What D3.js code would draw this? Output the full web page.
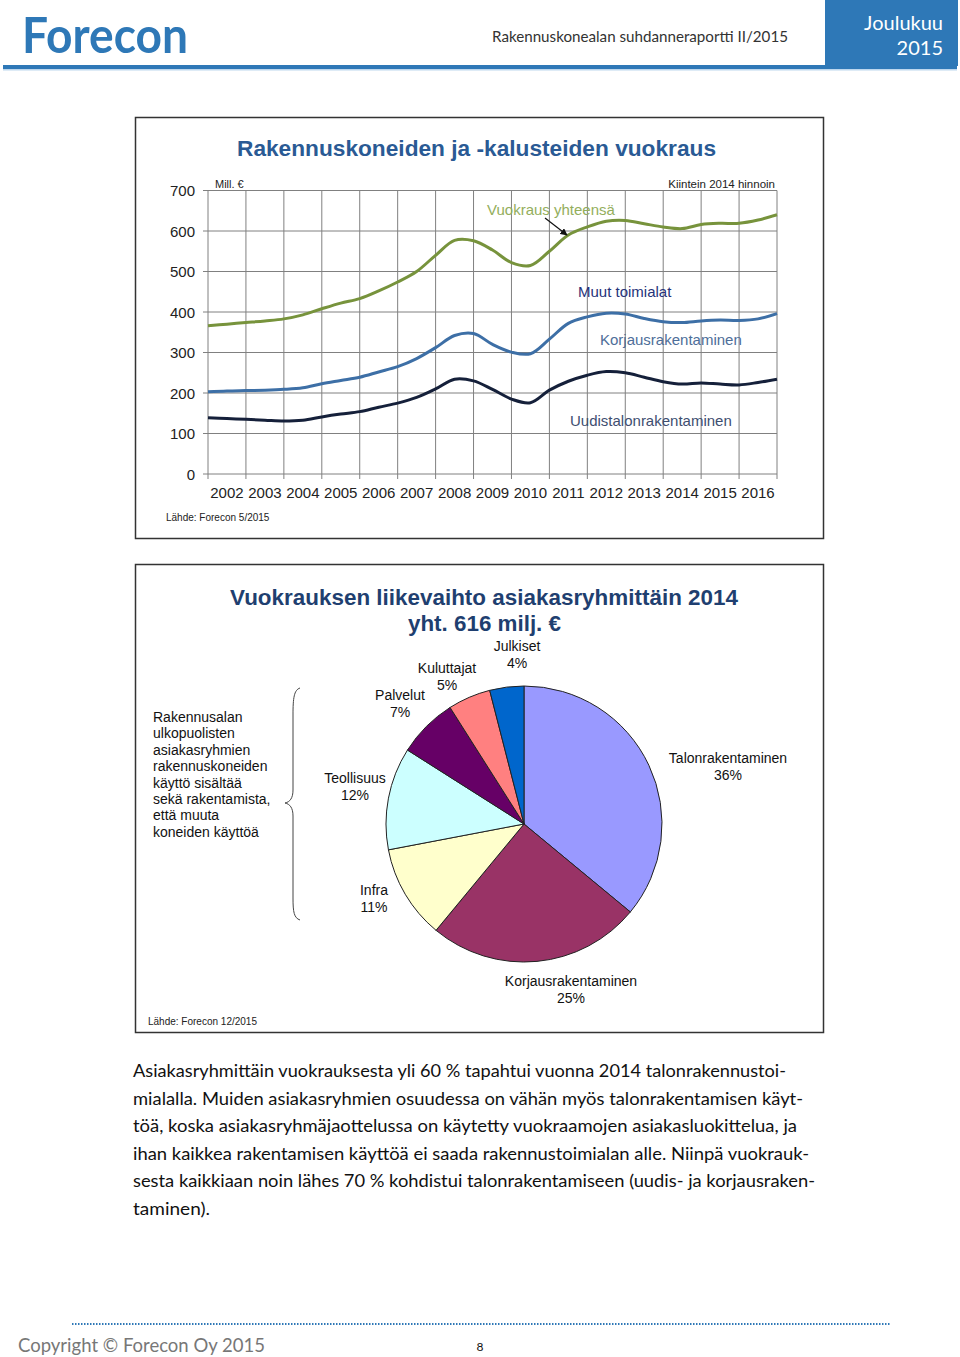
<!DOCTYPE html>
<html><head><meta charset="utf-8">
<script src="https://cdn.jsdelivr.net/npm/d3@7"></script>
<style>html,body{margin:0;padding:0;background:#fff}svg{display:block}</style>
</head><body><svg id="c" width="960" height="1357"></svg>
<script>
// ---- line chart data ----
const years = [2002,2003,2004,2005,2006,2007,2008,2009,2010,2011,2012,2013,2014,2015,2016];
const periods = [2002,2002.5,2003,2003.5,2004,2004.5,2005,2005.5,2006,2006.5,2007,2007.5,2008,2008.5,2009,2009.5,2010,2010.5,2011,2011.5,2012,2012.5,2013,2013.5,2014,2014.5,2015,2015.5,2016,2016.5,2017];
const vuokrausYhteensa = [366,370,374,378,383,393,408,422,433,452,474,500,540,577,576,553,522,515,550,590,610,624,626,618,610,606,616,619,619,627,640];
const talonrakentaminenYht = [203,205,206,207,209,213,223,231,239,252,265,285,312,342,347,320,301,297,333,372,388,397,395,384,376,374,378,380,379,383,396];
const uudistalonrakentaminen = [139,137,135,133,131,133,141,148,154,165,175,189,210,234,230,209,185,176,207,229,244,253,250,239,228,222,225,222,220,226,234];
const yTicks = [0,100,200,300,400,500,600,700];

// ---- pie data ----
const pieLabels = ["Talonrakentaminen","Korjausrakentaminen","Infra","Teollisuus","Palvelut","Kuluttajat","Julkiset"];
const pieValues = [36,25,11,12,7,5,4];
const pieColors = ["#9999FF","#993366","#FFFFCC","#CCFFFF","#660066","#FF8080","#0066CC"];

const paragraph = [
 "Asiakasryhmittäin vuokrauksesta yli 60 % tapahtui vuonna 2014 talonrakennustoi-",
 "mialalla. Muiden asiakasryhmien osuudessa on vähän myös talonrakentamisen käyt-",
 "töä, koska asiakasryhmäjaottelussa on käytetty vuokraamojen asiakasluokittelua, ja",
 "ihan kaikkea rakentamisen käyttöä ei saada rakennustoimialan alle. Niinpä vuokrauk-",
 "sesta kaikkiaan noin lähes 70 % kohdistui talonrakentamiseen (uudis- ja korjausraken-",
 "taminen)."
];
const paraWidths = [653,670,664,676,682,77];

const svg = d3.select("#c");
const AR = "'Liberation Sans', Arial, sans-serif";
const CAL = "Lato, 'Open Sans', sans-serif";

// ---- header ----
svg.append("text").attr("x",22).attr("y",53).attr("font-family",CAL).attr("font-weight","bold")
  .attr("font-size",50).attr("fill","#2E78B7").attr("textLength",166).attr("lengthAdjust","spacingAndGlyphs").text("Forecon");
svg.append("text").attr("x",492).attr("y",42).attr("font-family",CAL).attr("font-size",15)
  .attr("fill","#333").attr("textLength",296).attr("lengthAdjust","spacingAndGlyphs").text("Rakennuskonealan suhdanneraportti II/2015");
svg.append("rect").attr("x",825).attr("y",0).attr("width",133).attr("height",66).attr("fill","#2E78B7");
svg.append("rect").attr("x",3).attr("y",65).attr("width",954).attr("height",4).attr("fill","#2E78B7");
svg.append("rect").attr("x",3).attr("y",69).attr("width",954).attr("height",1.5).attr("fill","#BDD7EE");
svg.append("text").attr("x",943).attr("y",30).attr("text-anchor","end").attr("font-family",CAL).attr("font-size",20).attr("fill","#fff").text("Joulukuu");
svg.append("text").attr("x",943).attr("y",55).attr("text-anchor","end").attr("font-family",CAL).attr("font-size",20).attr("fill","#fff").text("2015");

// ---- line chart frame ----
svg.append("rect").attr("x",135.5).attr("y",117.5).attr("width",688).attr("height",421).attr("fill","#fff").attr("stroke","#333").attr("stroke-width",1.5);
svg.append("text").attr("x",237).attr("y",156).attr("font-family",AR).attr("font-weight","bold")
  .attr("font-size",22).attr("fill","#2A5A94").attr("textLength",479).attr("lengthAdjust","spacingAndGlyphs").text("Rakennuskoneiden ja -kalusteiden vuokraus");

const x = d3.scaleLinear().domain([2002,2017]).range([208,777]);
const y = d3.scaleLinear().domain([0,700]).range([474,190.5]);
const g = svg.append("g");
// grid
g.selectAll("line.h").data(yTicks).join("line").attr("x1",208).attr("x2",777)
  .attr("y1",d=>y(d)).attr("y2",d=>y(d)).attr("stroke","#808080").attr("stroke-width",1);
const bounds = years.map(d=>d).concat([2017]);
g.selectAll("line.v").data(bounds).join("line").attr("x1",d=>x(d)).attr("x2",d=>x(d))
  .attr("y1",y(700)).attr("y2",y(0)+5).attr("stroke","#808080").attr("stroke-width",1);
g.selectAll("line.yt").data(yTicks).join("line").attr("x1",203).attr("x2",208)
  .attr("y1",d=>y(d)).attr("y2",d=>y(d)).attr("stroke","#808080");
g.selectAll("text.yl").data(yTicks).join("text").attr("x",195).attr("y",d=>y(d)+5.5).attr("text-anchor","end")
  .attr("font-family",AR).attr("font-size",15).attr("fill","#222").text(d=>d);
g.selectAll("text.xl").data(years).join("text").attr("x",d=>x(d+0.5)).attr("y",498).attr("text-anchor","middle")
  .attr("font-family",AR).attr("font-size",15).attr("fill","#222").text(d=>d);
svg.append("text").attr("x",215).attr("y",188).attr("font-family",AR).attr("font-size",11).attr("fill","#222").text("Mill. €");
svg.append("text").attr("x",775).attr("y",188).attr("text-anchor","end").attr("font-family",AR).attr("font-size",11.5).attr("fill","#222").text("Kiintein 2014 hinnoin");
svg.append("text").attr("x",166).attr("y",521).attr("font-family",AR).attr("font-size",10).attr("fill","#222").text("Lähde: Forecon 5/2015");

const line = d3.line().x((d,i)=>x(periods[i])).y(d=>y(d)).curve(d3.curveCatmullRom.alpha(0.5));
[[vuokrausYhteensa,"#77933C"],[talonrakentaminenYht,"#3D6FA6"],[uudistalonrakentaminen,"#15203A"]].forEach(([s,c])=>{
  g.append("path").attr("d",line(s)).attr("fill","none").attr("stroke",c).attr("stroke-width",3).attr("stroke-linejoin","round");
});
// labels
svg.append("text").attr("x",487).attr("y",215).attr("font-family",AR).attr("font-size",15).attr("fill","#93AE5C").text("Vuokraus yhteensä");
svg.append("text").attr("x",578).attr("y",297).attr("font-family",AR).attr("font-size",15).attr("fill","#26337A").text("Muut toimialat");
svg.append("text").attr("x",600).attr("y",345).attr("font-family",AR).attr("font-size",15).attr("fill","#4E6E99").text("Korjausrakentaminen");
svg.append("text").attr("x",570).attr("y",426).attr("font-family",AR).attr("font-size",15).attr("fill","#3E4E70").text("Uudistalonrakentaminen");
const defs = svg.append("defs");
defs.append("marker").attr("id","ah").attr("viewBox","0 0 10 10").attr("refX",9).attr("refY",5)
  .attr("markerWidth",6).attr("markerHeight",6).attr("orient","auto")
  .append("path").attr("d","M0,0 L10,5 L0,10 z").attr("fill","#111");
svg.append("line").attr("x1",545).attr("y1",218).attr("x2",567).attr("y2",235).attr("stroke","#111").attr("stroke-width",1.2).attr("marker-end","url(#ah)");

// ---- pie chart ----
svg.append("rect").attr("x",135.5).attr("y",564.5).attr("width",688).attr("height",468).attr("fill","#fff").attr("stroke","#333").attr("stroke-width",1.5);
svg.append("text").attr("x",230).attr("y",605).attr("font-family",AR).attr("font-weight","bold")
  .attr("font-size",22).attr("fill","#1F3F70").attr("textLength",508).attr("lengthAdjust","spacingAndGlyphs").text("Vuokrauksen liikevaihto asiakasryhmittäin 2014");
svg.append("text").attr("x",408).attr("y",631).attr("font-family",AR).attr("font-weight","bold")
  .attr("font-size",22).attr("fill","#1F3F70").attr("textLength",153).attr("lengthAdjust","spacingAndGlyphs").text("yht. 616 milj. €");

const pie = d3.pie().sort(null).value(d=>d)(pieValues);
const arc = d3.arc().innerRadius(0).outerRadius(138);
const pg = svg.append("g").attr("transform","translate(524,824)");
pg.selectAll("path").data(pie).join("path").attr("d",arc).attr("fill",(d,i)=>pieColors[i])
  .attr("stroke","#222").attr("stroke-width",1);

const labelPos = [[728,758],[571,981],[374,890],[355,778],[400,695],[447,668],[517,646]];
pieLabels.forEach((l,i)=>{
  const [lx,ly] = labelPos[i];
  svg.append("text").attr("x",lx).attr("y",ly+5).attr("text-anchor","middle").attr("font-family",AR).attr("font-size",14).attr("fill","#111").text(l);
  svg.append("text").attr("x",lx).attr("y",ly+22).attr("text-anchor","middle").attr("font-family",AR).attr("font-size",14).attr("fill","#111").text(pieValues[i]+"%");
});
const leftText = ["Rakennusalan","ulkopuolisten","asiakasryhmien","rakennuskoneiden","käyttö sisältää","sekä rakentamista,","että muuta","koneiden käyttöä"];
leftText.forEach((t,i)=>{
  svg.append("text").attr("x",153).attr("y",722+i*16.4).attr("font-family",AR).attr("font-size",14).attr("fill","#111").text(t);
});
svg.append("path").attr("d","M300,688 C294,690 293,698 293,715 L293,790 C293,798 290,802 285,803 C290,804 293,808 293,816 L293,898 C293,912 294,918 300,920")
  .attr("fill","none").attr("stroke","#444").attr("stroke-width",1);
svg.append("text").attr("x",148).attr("y",1025).attr("font-family",AR).attr("font-size",10).attr("fill","#222").text("Lähde: Forecon 12/2015");

// ---- paragraph ----
const paraY = [1071,1099,1126,1154,1181,1209];
paragraph.forEach((t,i)=>{
  svg.append("text").attr("x",133).attr("y",paraY[i]+6).attr("font-family",CAL).attr("font-size",17).attr("fill","#111")
    .attr("textLength",paraWidths[i]).attr("lengthAdjust","spacingAndGlyphs").text(t);
});

// ---- footer ----
svg.append("line").attr("x1",72).attr("x2",890).attr("y1",1324).attr("y2",1324).attr("stroke","#2E78B7").attr("stroke-width",2).attr("stroke-dasharray","1.5,1.5");
svg.append("text").attr("x",18).attr("y",1352).attr("font-family",CAL).attr("font-size",19).attr("fill","#777")
  .attr("textLength",247).attr("lengthAdjust","spacingAndGlyphs").text("Copyright © Forecon Oy 2015");
svg.append("text").attr("x",480).attr("y",1351).attr("text-anchor","middle").attr("font-family",CAL).attr("font-size",12).attr("fill","#111").text("8");
</script></body></html>
